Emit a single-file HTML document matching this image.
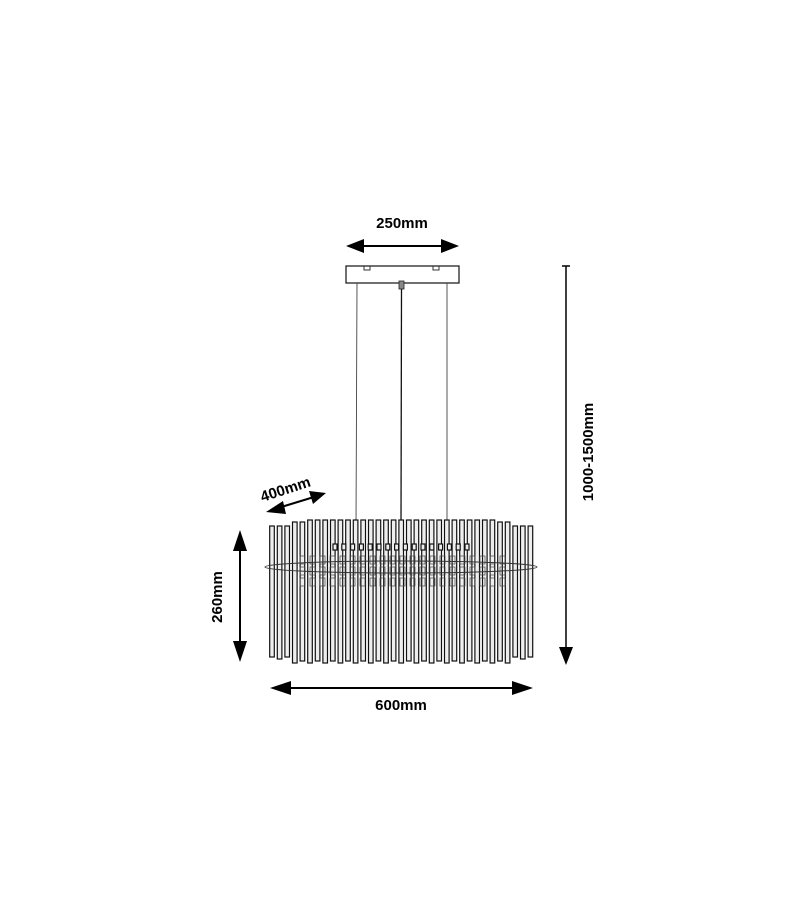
<!DOCTYPE html>
<html><head><style>html,body{margin:0;padding:0;background:#fff}svg{display:block}</style></head>
<body>
<svg id="s" width="800" height="920" viewBox="0 0 800 920" xmlns="http://www.w3.org/2000/svg" font-family="Liberation Sans, sans-serif" font-weight="bold" font-size="15">
<rect width="800" height="920" fill="#fff"/>
<rect x="346" y="266" width="113" height="17" fill="#fff" stroke="#222" stroke-width="1.3"/>
<path d="M364 266 v4 h6 v-4 M433 266 v4 h6 v-4" fill="none" stroke="#333"/>
<rect x="399" y="281" width="5" height="8" fill="#888" stroke="#222" stroke-width="0.8"/>
<line x1="357" y1="283" x2="356" y2="525" stroke="#444" stroke-width="0.9"/>
<line x1="401.5" y1="289" x2="401" y2="525" stroke="#111" stroke-width="1.3"/>
<line x1="447" y1="283" x2="447" y2="525" stroke="#444" stroke-width="0.9"/>
<g id="rods" stroke="#111" stroke-width="1.2" fill="#eee"></g>
<ellipse cx="401" cy="567" rx="136" ry="6" fill="none" stroke="#333" stroke-width="1"/>
<g fill="#000" stroke="#000">
<line x1="360" y1="246" x2="445" y2="246" stroke-width="2"/>
<polygon points="346,246 364,239 364,253" stroke="none"/>
<polygon points="459,246 441,239 441,253" stroke="none"/>
<line x1="566" y1="266" x2="566" y2="650" stroke-width="1.5"/>
<line x1="562" y1="266" x2="570" y2="266" stroke-width="1.5"/>
<polygon points="566,665 559,647 573,647" stroke="none"/>
<line x1="240" y1="545" x2="240" y2="648" stroke-width="2"/>
<polygon points="240,530 233,551 247,551" stroke="none"/>
<polygon points="240,662 233,641 247,641" stroke="none"/>
<line x1="285" y1="688" x2="518" y2="688" stroke-width="2"/>
<polygon points="270,688 291,681 291,695" stroke="none"/>
<polygon points="533,688 512,681 512,695" stroke="none"/>
<line x1="278" y1="508" x2="314" y2="497" stroke-width="2"/>
<polygon points="266,512 283,501 286,514" stroke="none"/>
<polygon points="326,493 309,491 313,504" stroke="none"/>
</g>
<text x="402" y="228" text-anchor="middle">250mm</text>
<text x="401" y="710" text-anchor="middle">600mm</text>
<text transform="translate(222,597) rotate(-90)" text-anchor="middle">260mm</text>
<text transform="translate(593,452) rotate(-90)" text-anchor="middle">1000-1500mm</text>
<text transform="translate(287,494) rotate(-18)" text-anchor="middle">400mm</text>
</svg>
<script>
(function(){
var g=document.getElementById('rods'),h='',i=0;
for(var x=272;x<=531;x+=7.6){
 var t=(x-401)/131, off=Math.abs(t)>0.85?4:0;
 var y0=520+off+(Math.abs(t)>0.7?2:0), y1=661+(i%2?2:0)-off; i++;
 h+='<rect x="'+(x-2.3).toFixed(1)+'" y="'+y0+'" width="4.6" height="'+(y1-y0)+'"/>';
}
for(var x=335;x<=468;x+=8.8){h+='<rect x="'+(x-2)+'" y="544" width="4" height="6"/>';}
for(var r=0;r<3;r++)for(var x=300;x<=505;x+=10){h+='<rect x="'+x+'" y="'+(556+r*11)+'" width="5" height="8" stroke="#444" stroke-width="0.7" fill="none"/>';}
g.innerHTML=h;
})();
</script>
</body></html>
